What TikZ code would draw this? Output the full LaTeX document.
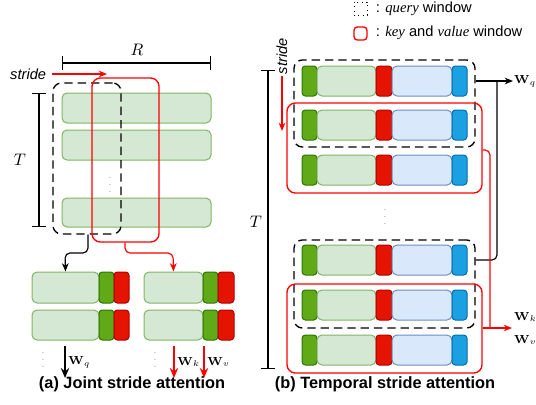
\documentclass[tikz,border=0pt]{standalone}
\usepackage{amsmath}
\usepackage[no-math]{fontspec}
\setmainfont{Liberation Sans}
\newfontfamily\serifit{Liberation Serif}
\usetikzlibrary{arrows.meta}
\usetikzlibrary{fit}

\definecolor{LightGreen}{HTML}{D5E8D4}
\definecolor{LightGreenLine}{HTML}{82B366}
\definecolor{DarkGreen}{HTML}{60A917}
\definecolor{DarkGreenLine}{HTML}{2D7600}
\definecolor{BlockRed}{HTML}{E51400}
\definecolor{BlockRedLine}{HTML}{B20000}
\definecolor{LightBlue}{HTML}{DAE8FC}
\definecolor{LightBlueLine}{HTML}{6C8EBF}
\definecolor{BlockBlue}{HTML}{1BA1E2}
\definecolor{BlockBlueLine}{HTML}{006EAF}
\definecolor{WinRed}{HTML}{FF0000}

\begin{document}
\begin{tikzpicture}[x=0.6pt, y=-0.6pt,
    lgbar/.style={fill=LightGreen, draw=LightGreenLine, line width=0.6pt, rounded corners=3pt, inner sep=0pt},
    lbbar/.style={fill=LightBlue, draw=LightBlueLine, line width=0.6pt, rounded corners=3pt, inner sep=0pt},
    gblock/.style={fill=DarkGreen, draw=DarkGreenLine, line width=0.6pt, rounded corners=2pt, inner sep=0pt},
    rblock/.style={fill=BlockRed, draw=BlockRedLine, line width=0.6pt, rounded corners=2pt, inner sep=0pt},
    bblock/.style={fill=BlockBlue, draw=BlockBlueLine, line width=0.6pt, rounded corners=2pt, inner sep=0pt},
    qwin/.style={draw=black, line width=0.8pt, dash pattern=on 5pt off 3pt, rounded corners=5pt, inner sep=0pt},
    kvwin/.style={draw=WinRed, line width=0.8pt, rounded corners=5pt, inner sep=0pt},
    qline/.style={draw=black, line width=0.7pt, rounded corners=3pt, -{Stealth[length=5pt, width=4pt]}},
    kvline/.style={draw=WinRed, line width=0.7pt, rounded corners=3pt, -{Stealth[length=5pt, width=4pt]}},
    small/.style={font=\fontsize{8.8}{10}\selectfont},
    mathlab/.style={font=\fontsize{10}{12}\selectfont},
    wlab/.style={font=\fontsize{7.5}{9}\selectfont, inner sep=0.5pt, text=black},
    dots/.style={font=\tiny, text=gray, inner sep=0pt},
    caption/.style={font=\fontsize{9.8}{12}\selectfont\bfseries}]

    \useasboundingbox (0,0) rectangle (536,404);

    % Legend
    \node[draw=black, dotted, line width=0.6pt, fit={(354,2) (367,15)}, inner sep=0pt] (legq) {};
    \node[draw=WinRed, line width=0.8pt, rounded corners=2pt, fit={(354,27) (367,40)}, inner sep=0pt] (legkv) {};
    \node[small, anchor=west] (legqtext) at (370,9) {: {\serifit\itshape query} window};
    \node[small, anchor=west] (legkvtext) at (370,33) {: {\serifit\itshape key} and {\serifit\itshape value} window};

    %%%%% (a) Joint stride attention %%%%%
    % Joint rows
    \foreach \ytop/\ybot [count=\i] in {93/123, 130/160, 198/227} {
        \node[lgbar, fit={(62,\ytop) (211,\ybot)}] (jbar\i) {};
    }
    \node[dots] (jdots) at (110,180) {$\vdots$};

    % Dimension lines
    \draw[line width=0.8pt, {Bar[width=8pt]}-{Bar[width=8pt]}] (62,63) -- (211,63);
    \node[mathlab] (rlab) at (137,50) {$R$};
    \draw[line width=0.8pt, {Bar[width=8pt]}-{Bar[width=8pt]}] (39,93) -- (39,227);
    \node[mathlab] (tlaba) at (20,160) {$T$};

    % Stride
    \node[small, anchor=east, font=\fontsize{8.8}{10}\selectfont\itshape] (stridea) at (52,74) {stride};
    \draw[WinRed, line width=0.8pt, -{Stealth[length=5pt, width=4pt]}] (stridea.east) -- (107,74);

    % Windows
    \node[qwin, fit={(53,83) (121,234)}] (qwa) {};
    \node[kvwin, fit={(92,78) (159,242)}] (kva) {};

    % Query and key/value tokens
    \foreach \ytop/\ybot [count=\i] in {272/303, 310/340} {
        \node[lgbar, fit={(32,\ytop) (99,\ybot)}] (qbar\i) {};
        \node[gblock, fit={(99,\ytop) (114,\ybot)}] (qg\i) {};
        \node[rblock, fit={(114,\ytop) (129,\ybot)}] (qr\i) {};
        \node[lgbar, fit={(144,\ytop) (203,\ybot)}] (kbar\i) {};
        \node[gblock, fit={(203,\ytop) (218,\ybot)}] (kg\i) {};
        \node[rblock, fit={(218,\ytop) (234,\ybot)}] (kr\i) {};
    }
    \node[dots] (qdots) at (43,355) {$\vdots$};
    \node[dots] (kdots) at (155,355) {$\vdots$};

    \draw[qline] (qwa.south -| 88,0) |- (65,253) -- (qbar1.north);
    \draw[kvline] (kva.south -| 125,0) |- (173,253) -- (kbar1.north);

    % Projections
    \coordinate (wqa-s) at (65,346);
    \coordinate (wqa-e) at (65,378);
    \coordinate (wka-s) at (174,346);
    \coordinate (wka-e) at (174,378);
    \coordinate (wva-s) at (204,346);
    \coordinate (wva-e) at (204,378);
    \draw[line width=1pt, -{Stealth[length=6pt, width=5pt]}] (wqa-s) -- (wqa-e) node[wlab, midway, right=1pt] (wqa) {$\mathbf{W}_q$};
    \draw[WinRed, line width=1pt, -{Stealth[length=6pt, width=5pt]}] (wka-s) -- (wka-e) node[wlab, midway, right=1pt] (wka) {$\mathbf{W}_k$};
    \draw[WinRed, line width=1pt, -{Stealth[length=6pt, width=5pt]}] (wva-s) -- (wva-e) node[wlab, midway, right=1pt] (wva) {$\mathbf{W}_v$};

    \node[caption] (capa) at (132,384) {(a) Joint stride attention};

    %%%%% (b) Temporal stride attention %%%%%
    % Temporal rows
    \foreach \ytop [count=\i] in {66,110,155,245,290,335} {
        \pgfmathsetmacro\ybot{\ytop+30}
        \node[gblock, fit={(302,\ytop) (317,\ybot)}] (tg\i) {};
        \node[lgbar, fit={(317,\ytop) (376,\ybot)}] (tlg\i) {};
        \node[rblock, fit={(376,\ytop) (392,\ybot)}] (tr\i) {};
        \node[lbbar, fit={(392,\ytop) (452,\ybot)}] (tlb\i) {};
        \node[bblock, fit={(452,\ytop) (467,\ybot)}] (tb\i) {};
    }
    \node[dots] (tdots) at (385,212) {$\vdots$};

    % Dimension line and stride
    \draw[line width=0.8pt, {Bar[width=8pt]}-{Bar[width=8pt]}] (268,70) -- (268,369);
    \node[mathlab] (tlabb) at (256,222) {$T$};
    \node[small, rotate=90, anchor=west, inner sep=1pt, font=\fontsize{8.8}{10}\selectfont\itshape] (strideb) at (282,76) {stride};
    \draw[WinRed, line width=0.8pt, -{Stealth[length=5pt, width=4pt]}] (strideb.west) -- (282,131);

    % Windows
    \node[qwin, fit={(294,60) (475,147)}] (qwb1) {};
    \node[qwin, fit={(294,240) (475,328)}] (qwb2) {};
    \node[kvwin, fit={(287,103) (482,193)}] (kvb1) {};
    \node[kvwin, fit={(287,284) (482,373)}] (kvb2) {};

    % Projections
    \node[wlab, anchor=west] (wqb) at (513,81) {$\mathbf{W}_q$};
    \node[wlab, anchor=west] (wkb) at (513,317) {$\mathbf{W}_k$};
    \node[wlab, anchor=west] (wvb) at (513,340) {$\mathbf{W}_v$};
    \coordinate (wqb-in) at (513,81);
    \coordinate (wkvb-in) at (512,328);

    \draw[qline] (qwb1.east |- wqb-in) -- (wqb-in);
    \draw[qline, -] (qwb2.east |- 0,260) -| (497,81);
    \draw[kvline] (kvb2.east |- wkvb-in) -- (wkvb-in);
    \draw[kvline, -] (kvb1.east |- 0,150) -| (490,328);

    \node[caption] (capb) at (385,384) {(b) Temporal stride attention};
\end{tikzpicture}
\end{document}
